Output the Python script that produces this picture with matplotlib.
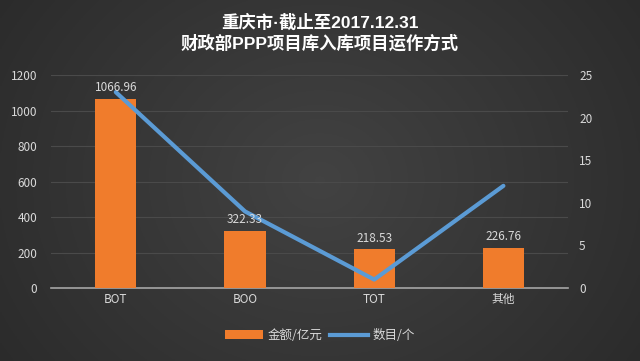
import numpy as np
import matplotlib
matplotlib.use("Agg")
from matplotlib import pyplot as plt
from matplotlib.patches import Patch
from matplotlib.lines import Line2D

plt.rcParams['font.family'] = ['Noto Sans CJK SC', 'DejaVu Sans']

# Datos
categories = ["BOT", "BOO", "TOT", "其他"]
amounts = [1066.96, 322.33, 218.53, 226.76]
counts = [23, 9, 1, 12]
amount_labels = ["1066.96", "322.33", "218.53", "226.76"]
left_ticks = [0, 200, 400, 600, 800, 1000, 1200]
right_ticks = [0, 5, 10, 15, 20, 25]

bar_color = "#f07c2c"
line_color = "#5b9bd5"
text_color = "#d9d9d9"

fig = plt.figure(figsize=(6.4, 3.61), dpi=100)

# Fondo con degradado
bg = fig.add_axes([0, 0, 1, 1], zorder=-10)
yy, xx = np.mgrid[-1:1:200j, -1:1:300j]
r = np.sqrt(xx ** 2 * 0.7 + yy ** 2 * 0.3)
g = np.clip(0.26 - 0.09 * r, 0, 1)
bg.imshow(np.dstack([g, g, g]), aspect="auto", extent=[0, 1, 0, 1])
bg.axis('off')

ax = fig.add_axes([0.08, 0.202, 0.8075, 0.59])
ax.patch.set_alpha(0)
x = np.arange(len(categories))
ax.bar(x, amounts, width=0.32, color=bar_color, zorder=3)

ax.set_ylim(0, 1200)
ax.set_xlim(-0.5, len(categories) - 0.5)
ax.set_yticks(left_ticks)
ax.set_xticks(x)
ax.set_xticklabels(categories)
ax.tick_params(colors=text_color, labelsize=8.5, length=0)
ax.tick_params(axis='y', pad=10)
ax.grid(axis='y', color="#4a4a4a", linewidth=0.8, zorder=0)
for s in ["top", "right", "left"]:
    ax.spines[s].set_visible(False)
ax.spines["bottom"].set_color("#a6a6a6")
ax.spines["bottom"].set_linewidth(1.2)

ax2 = ax.twinx()
ax2.plot(x, counts, color=line_color, linewidth=3, zorder=4, solid_capstyle="round")
ax2.set_ylim(0, 25)
ax2.set_yticks(right_ticks)
ax2.tick_params(colors=text_color, labelsize=8.5, length=0, pad=8)
for s in ["top", "right", "left", "bottom"]:
    ax2.spines[s].set_visible(False)

# etiquetas encima de la línea
for xi, v, lab in zip(x, amounts, amount_labels):
    ax2.text(xi, v + 25, lab, ha="center", va="bottom", color=text_color,
             fontsize=8.5, zorder=6, transform=ax.transData)

title_font = ['Liberation Sans', 'Noto Sans CJK SC', 'DejaVu Sans']
fig.text(0.5, 0.94, "重庆市·截止至2017.12.31", ha="center", va="center",
         color="white", fontsize=12.5, fontweight="bold", family=title_font)
fig.text(0.5, 0.88, "财政部PPP项目库入库项目运作方式", ha="center", va="center",
         color="white", fontsize=12.5, fontweight="bold", family=title_font)

handles = [Patch(facecolor=bar_color, label="金额/亿元"),
           Line2D([0], [0], color=line_color, linewidth=3, label="数目/个")]
fig.legend(handles=handles, loc="center", bbox_to_anchor=(0.5, 0.07), ncol=2,
           frameon=False, labelcolor=text_color, fontsize=9,
           handlelength=3, columnspacing=0.6, handletextpad=0.4)

fig.savefig("out.png", dpi=100)
